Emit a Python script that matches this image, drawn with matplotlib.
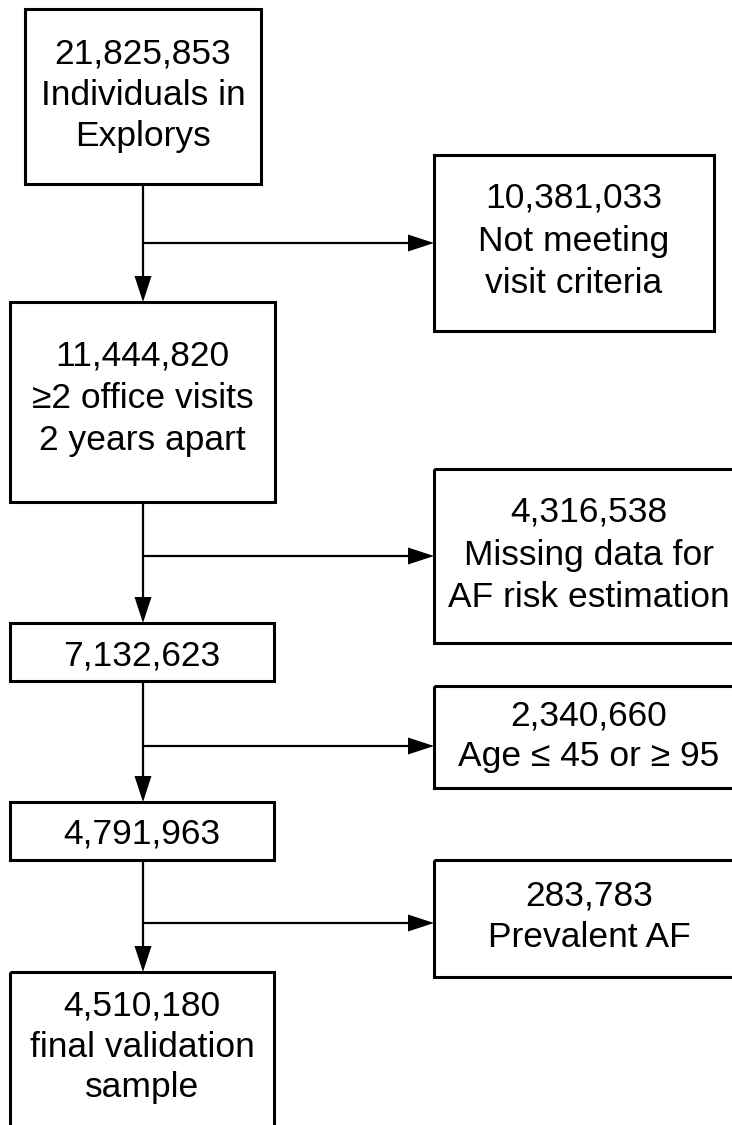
import matplotlib
matplotlib.use("Agg")
import matplotlib.pyplot as plt
from matplotlib.patches import Rectangle, Polygon

plt.rcParams['font.family'] = ['Liberation Sans', 'DejaVu Sans']

# ---- data: flowchart counts and labels ----
main_counts = ["21,825,853", "11,444,820", "7,132,623", "4,791,963", "4,510,180"]
main_labels = [["Individuals in", "Explorys"],
               ["\u22652 office visits", "2 years apart"],
               [],
               [],
               ["final validation", "sample"]]
excl_counts = ["10,381,033", "4,316,538", "2,340,660", "283,783"]
excl_labels = [["Not meeting", "visit criteria"],
               ["Missing data for", "AF risk estimation"],
               ["Age \u2264 45 or \u2265 95"],
               ["Prevalent AF"]]

# ---- layout (pixels, y downward) ----
W, H = 732, 1125
main_boxes = [(25, 9, 261, 184), (10, 302, 275, 502), (10, 623, 274, 681),
              (10, 802, 274, 860), (10, 972, 274, 1140)]
main_baselines = [[64, 105, 146], [366, 408, 450], [665], [844], [1015, 1057, 1097]]
excl_boxes = [(434, 155, 714, 331), (434, 469, 744, 643), (434, 686, 744, 788),
              (434, 860, 744, 977)]
excl_baselines = [[208, 251, 293], [522, 565, 607], [725, 766], [905, 947]]
branch_y = [243, 556, 746, 923]
spine_x = 143

fig = plt.figure(figsize=(W / 100, H / 100), dpi=100)
ax = fig.add_axes([0, 0, 1, 1])
ax.set_xlim(0, W)
ax.set_ylim(H, 0)
ax.axis('off')

FS = 25.5
BOX_LW = 2.2
LINE_LW = 1.6
HEAD_L, HEAD_HW = 26, 8.5


def box(b):
    x0, y0, x1, y1 = b
    ax.add_patch(Rectangle((x0, y0), x1 - x0, y1 - y0, fill=False,
                           edgecolor='black', linewidth=BOX_LW, zorder=2))


def texts(b, count, labels, baselines):
    cx = (b[0] + b[2]) / 2
    lines = [count] + labels
    for s, yb in zip(lines, baselines):
        ax.text(cx, yb, s, ha='center', va='baseline', fontsize=FS,
                color='black', zorder=3)


def arrow_down(x, y0, y1):
    ax.plot([x, x], [y0, y1 - HEAD_L + 1], color='black', lw=LINE_LW,
            solid_capstyle='butt', zorder=1)
    ax.add_patch(Polygon([(x - HEAD_HW, y1 - HEAD_L), (x + HEAD_HW, y1 - HEAD_L),
                          (x, y1)], closed=True, color='black', lw=0, zorder=1))


def arrow_right(y, x0, x1):
    ax.plot([x0, x1 - HEAD_L + 1], [y, y], color='black', lw=LINE_LW,
            solid_capstyle='butt', zorder=1)
    ax.add_patch(Polygon([(x1 - HEAD_L, y - HEAD_HW), (x1 - HEAD_L, y + HEAD_HW),
                          (x1, y)], closed=True, color='black', lw=0, zorder=1))


for b, c, l, bl in zip(main_boxes, main_counts, main_labels, main_baselines):
    box(b)
    texts(b, c, l, bl)
for b, c, l, bl in zip(excl_boxes, excl_counts, excl_labels, excl_baselines):
    box(b)
    texts(b, c, l, bl)

for i in range(len(main_boxes) - 1):
    arrow_down(spine_x, main_boxes[i][3], main_boxes[i + 1][1])
for y, b in zip(branch_y, excl_boxes):
    arrow_right(y, spine_x, b[0])

fig.savefig("out.png", dpi=100)
